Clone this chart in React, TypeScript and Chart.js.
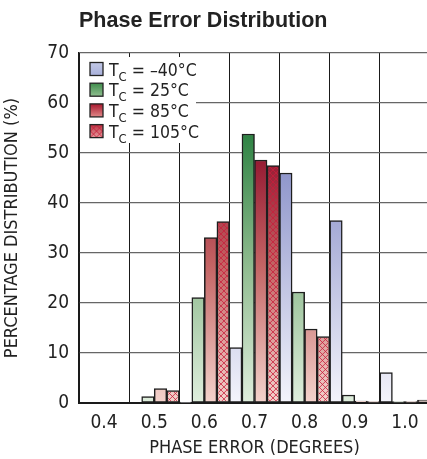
import React, { useEffect, useRef } from "react";
import { Chart, registerables } from "chart.js";

Chart.register(...registerables);

// ---- data ----
const categories = ["0.4", "0.5", "0.6", "0.7", "0.8", "0.9", "1.0"];
const temps = ["–40°C", "25°C", "85°C", "105°C"];
const tMinus40 = [0, 0, 0.2, 11.1, 46, 36.5, 6.1];
const t25 = [0, 1.3, 21.1, 53.8, 22.2, 1.6, 0.3];
const t85 = [0, 2.9, 33.1, 48.6, 14.8, 0.4, 0.3];
const t105 = [0, 2.5, 36.3, 47.5, 13.3, 0.3, 0.6];
const yMin = 0;
const yMax = 70;
const yStep = 10;
const titleText = "Phase Error Distribution";
const xTitle = "PHASE ERROR (DEGREES)";
const yTitle = "PERCENTAGE DISTRIBUTION (%)";

const FONT = "'Liberation Sans Narrow', 'DejaVu Sans Condensed', 'Liberation Sans', sans-serif";
const TITLE_FONT = "'Liberation Sans', Arial, sans-serif";
const TEXT = "#222";

type Stop = [number, string];
const blueStops: Stop[] = [[0, "#f4f4fb"], [1, "#7c84c2"]];
const greenStops: Stop[] = [[0, "#dfeedd"], [0.5, "#8fbb8f"], [1, "#2a8040"]];
const redStops: Stop[] = [[0, "#f3d3cc"], [0.5, "#c46464"], [1, "#880424"]];
const palettes: Stop[][] = [blueStops, greenStops, redStops, redStops];
const swatchStops: Stop[][] = [
  [[0, "#c2c8e6"], [1, "#a8b0da"]],
  [[0, "#3f8c4c"], [1, "#8fbe8f"]],
  [[0, "#a8182e"], [1, "#e08888"]],
  [[0, "#b83040"], [1, "#e8a0a0"]],
];

function gradientFor(chart: any, idx: number) {
  const area = chart.chartArea;
  if (!area) return palettes[idx][0][1];
  const yScale = chart.scales.y;
  const top = yScale.getPixelForValue(55);
  const g = chart.ctx.createLinearGradient(0, area.bottom, 0, top);
  palettes[idx].forEach(([o, c]) => g.addColorStop(o, c));
  return g;
}

function drawHatch(ctx: CanvasRenderingContext2D, left: number, top: number, w: number, h: number, step: number) {
  ctx.save();
  ctx.beginPath();
  ctx.rect(left, top, w, h);
  ctx.clip();
  ctx.strokeStyle = "rgba(200,30,60,0.8)";
  ctx.lineWidth = 1;
  ctx.beginPath();
  const bottom = top + h;
  const start = left - h - step - ((left - h) % step);
  for (let s = start; s < left + w + h + step; s += step) {
    ctx.moveTo(s, bottom);
    ctx.lineTo(s + h, top);
    ctx.moveTo(s, top);
    ctx.lineTo(s + h, bottom);
  }
  ctx.stroke();
  ctx.restore();
}

const hatchPlugin = {
  id: "hatchBars",
  afterDatasetDraw(chart: any, args: any) {
    if (args.index !== 3) return;
    const ctx = chart.ctx;
    const bw = 1.5;
    args.meta.data.forEach((bar: any) => {
      const { x, y, base, width } = bar.getProps(["x", "y", "base", "width"], true);
      const l = x - width / 2 + bw;
      const r = x + width / 2 - bw;
      const t = Math.min(y, base) + bw;
      const b = Math.max(y, base) - bw;
      if (b - t <= 0.5) return;
      drawHatch(ctx, l, t, r - l, b - t, 6);
    });
  },
};

const legendPlugin = {
  id: "customLegend",
  afterDatasetsDraw(chart: any) {
    const { ctx, chartArea } = chart;
    const L = chartArea.left;
    const T = chartArea.top;
    ctx.save();
    ctx.fillStyle = "#ffffff";
    ctx.fillRect(L + 1, T + 4, 116, 86);
    chart.data.datasets.forEach((ds: any, i: number) => {
      const cy = T + 16 + i * 20.7;
      const sx = L + 11;
      const sy = cy - 6.5;
      const g = ctx.createLinearGradient(0, sy, 0, sy + 13);
      swatchStops[i].forEach(([o, c]) => g.addColorStop(o, c));
      ctx.fillStyle = g;
      ctx.fillRect(sx, sy, 13, 13);
      if (i === 3) drawHatch(ctx, sx, sy, 13, 13, 6);
      ctx.strokeStyle = "#222";
      ctx.lineWidth = 1.3;
      ctx.strokeRect(sx, sy, 13, 13);
      const base = cy + 6.5;
      let tx = L + 30;
      ctx.fillStyle = TEXT;
      ctx.textBaseline = "alphabetic";
      ctx.textAlign = "left";
      ctx.font = `17.5px ${FONT}`;
      ctx.fillText("T", tx, base);
      tx += ctx.measureText("T").width;
      ctx.font = `13px ${FONT}`;
      ctx.fillText("C", tx, base + 5);
      tx += ctx.measureText("C").width;
      ctx.font = `17.5px ${FONT}`;
      ctx.fillText(" = " + ds.tempLabel, tx, base);
    });
    ctx.restore();
  },
};

export default function App() {
  const ref = useRef<HTMLCanvasElement | null>(null);
  useEffect(() => {
    if (!ref.current) return;
    Chart.defaults.font.family = FONT;
    Chart.defaults.color = TEXT;
    const series = [tMinus40, t25, t85, t105];
    const chart = new Chart(ref.current, {
      type: "bar",
      data: {
        labels: categories,
        datasets: series.map((d, i) => ({
          label: "TC = " + temps[i],
          tempLabel: temps[i],
          data: d,
          backgroundColor: (c: any) => gradientFor(c.chart, i),
          borderColor: "#1e1e1e",
          borderWidth: 1.5,
          borderSkipped: false,
          barPercentage: 1,
          categoryPercentage: 1,
        })) as any,
      },
      options: {
        responsive: false,
        animation: false,
        devicePixelRatio: 1,
        layout: { padding: 0 },
        plugins: {
          legend: { display: false },
          tooltip: { enabled: false },
          title: {
            display: true,
            text: titleText,
            align: "start",
            fullSize: false,
            color: TEXT,
            font: { size: 21.5, weight: "bold", family: TITLE_FONT },
            padding: { top: 8, bottom: 19.2 },
          },
        },
        scales: {
          x: {
            grid: { color: "#1a1a1a", lineWidth: 1, drawTicks: false, offset: true },
            border: { color: "#1a1a1a", width: 2 },
            ticks: { font: { size: 19, family: FONT }, color: TEXT, padding: 9 },
            title: {
              display: true,
              text: xTitle,
              color: TEXT,
              font: { size: 18, family: FONT },
              padding: { top: 0, bottom: 0 },
            },
            afterFit: (s: any) => { s.height = 56; },
          },
          y: {
            min: yMin,
            max: yMax,
            grid: { color: "#666", lineWidth: 1.2, drawTicks: false },
            border: { color: "#1a1a1a", width: 1.5 },
            ticks: { stepSize: yStep, font: { size: 19, family: FONT }, color: TEXT, padding: 10 },
            title: {
              display: true,
              text: yTitle,
              color: TEXT,
              font: { size: 18, family: FONT },
              padding: { top: 2, bottom: 0 },
            },
            afterFit: (s: any) => { s.width = 79; },
          },
        },
      } as any,
      plugins: [hatchPlugin, legendPlugin],
    });
    return () => chart.destroy();
  }, []);
  return (
    <div style={{ position: "fixed", left: 0, top: 0, width: 427, height: 459, overflow: "hidden", background: "#fff" }}>
      <canvas ref={ref} width={430} height={459} style={{ display: "block", width: 430, height: 459 }} />
    </div>
  );
}
